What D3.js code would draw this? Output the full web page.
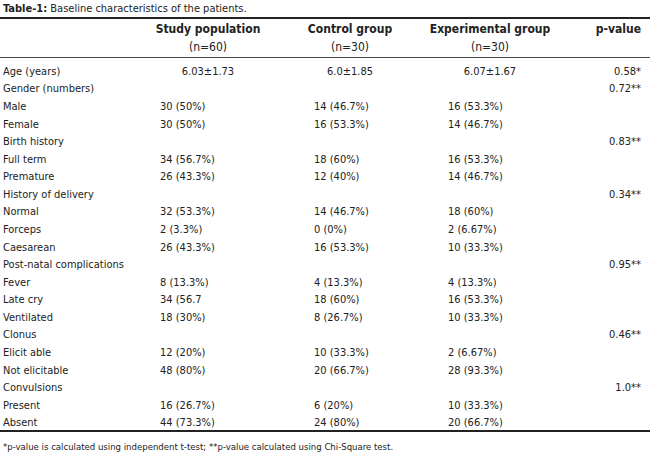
<!DOCTYPE html>
<html><head><meta charset="utf-8">
<script src="https://cdn.jsdelivr.net/npm/d3@7"></script>
<style>body{margin:0;background:#fff}svg{font-family:"Liberation Sans Narrow","DejaVu Sans Condensed",sans-serif;font-size:11px;fill:#222}</style>
</head><body><svg width="650" height="458"></svg>
<script>
var labels = ['Age (years)','Gender (numbers)','Male','Female','Birth history','Full term','Premature','History of delivery','Normal','Forceps','Caesarean','Post-natal complications','Fever','Late cry','Ventilated','Clonus','Elicit able','Not elicitable','Convulsions','Present','Absent']
var study = ['6.03\u00b11.73','','30 (50%)','30 (50%)','','34 (56.7%)','26 (43.3%)','','32 (53.3%)','2 (3.3%)','26 (43.3%)','','8 (13.3%)','34 (56.7','18 (30%)','','12 (20%)','48 (80%)','','16 (26.7%)','44 (73.3%)']
var control = ['6.0\u00b11.85','','14 (46.7%)','16 (53.3%)','','18 (60%)','12 (40%)','','14 (46.7%)','0 (0%)','16 (53.3%)','','4 (13.3%)','18 (60%)','8 (26.7%)','','10 (33.3%)','20 (66.7%)','','6 (20%)','24 (80%)']
var experimental = ['6.07\u00b11.67','','16 (53.3%)','14 (46.7%)','','16 (53.3%)','14 (46.7%)','','18 (60%)','2 (6.67%)','10 (33.3%)','','4 (13.3%)','16 (53.3%)','10 (33.3%)','','2 (6.67%)','28 (93.3%)','','10 (33.3%)','20 (66.7%)']
var pvalues = ['0.58*','0.72**','','','0.83**','','','0.34**','','','','0.95**','','','','0.46**','','','1.0**','','']
var headers = [['Study population','(n=60)'],['Control group','(n=30)'],['Experimental group','(n=30)']]

var svg = d3.select('svg')
var y = d3.scaleBand().domain(d3.range(labels.length)).range([62, 431])

svg.append('text').attr('x', 3).attr('y', 12)
  .html('<tspan font-weight="bold">Table-1:</tspan> Baseline characteristics of the patients.')

svg.append('rect').attr('x', 0).attr('y', 17).attr('width', 650).attr('height', 2).attr('fill', '#222')
svg.append('rect').attr('x', 0).attr('y', 57).attr('width', 650).attr('height', 1).attr('fill', '#444')
svg.append('rect').attr('x', 0).attr('y', 430).attr('width', 650).attr('height', 2).attr('fill', '#222')

var centers = [208, 350, 490]
var starts = [160, 314, 448]
headers.forEach(function(h, i) {
  svg.append('text').attr('x', centers[i]).attr('y', 33).attr('text-anchor', 'middle').attr('font-weight', 'bold').attr('font-size', 12).text(h[0])
  svg.append('text').attr('x', centers[i]).attr('y', 51).attr('text-anchor', 'middle').attr('font-size', 12).text(h[1])
})
svg.append('text').attr('x', 641).attr('y', 33).attr('text-anchor', 'end').attr('font-weight', 'bold').attr('font-size', 12).text('p-value')

var rows = svg.selectAll('g.row').data(labels).enter().append('g')
  .attr('transform', function(d, i) { return 'translate(0,' + (y(i) + y.bandwidth() / 2 + 4) + ')' })
rows.append('text').attr('x', 3).text(function(d) { return d })
;[study, control, experimental].forEach(function(col, c) {
  rows.append('text')
    .attr('x', function(d, i) { return i == 0 ? centers[c] : starts[c] })
    .attr('text-anchor', function(d, i) { return i == 0 ? 'middle' : 'start' })
    .text(function(d, i) { return col[i] })
})
rows.append('text').attr('x', 641).attr('text-anchor', 'end').text(function(d, i) { return pvalues[i] })

svg.append('text').attr('x', 3).attr('y', 450).attr('font-size', 9.5)
  .text('*p-value is calculated using independent t-test; **p-value calculated using Chi-Square test.')
</script></body></html>
